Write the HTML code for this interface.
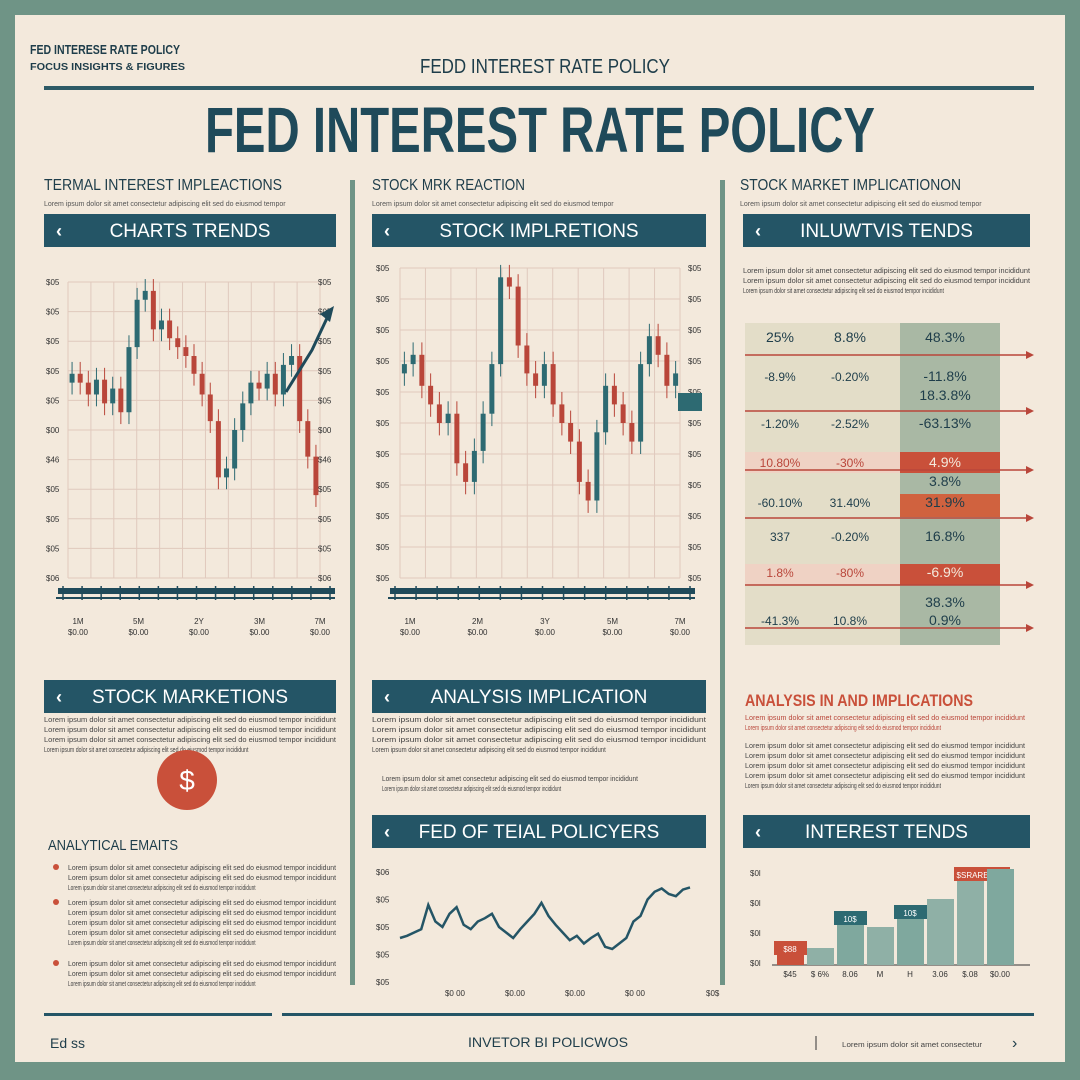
<!DOCTYPE html>
<html><head><meta charset="utf-8">
<style>
html,body{margin:0;padding:0;background:#6f9486;}
svg{display:block;font-family:"Liberation Sans",sans-serif;}
</style></head>
<body>
<svg id="pg" width="1080" height="1080" viewBox="0 0 1080 1080" xmlns="http://www.w3.org/2000/svg">
<rect x="0" y="0" width="1080" height="1080" fill="#6f9486"/>
<rect x="15" y="15" width="1050" height="1047" fill="#f3e9dc"/>
<text x="30" y="54" font-size="13" font-weight="bold" fill="#1e3d4a" textLength="150" lengthAdjust="spacingAndGlyphs">FED INTERESE RATE POLICY</text>
<text x="30" y="70" font-size="10" font-weight="bold" fill="#1e3d4a" textLength="155" lengthAdjust="spacingAndGlyphs">FOCUS INSIGHTS &amp; FIGURES</text>
<text x="545" y="73" font-size="20" fill="#1e3d4a" text-anchor="middle" textLength="250" lengthAdjust="spacingAndGlyphs">FEDD INTEREST RATE POLICY</text>
<rect x="44" y="86" width="990" height="4" fill="#2d5a66"/>
<text x="540" y="152" font-size="64" font-weight="bold" fill="#1f4a5a" text-anchor="middle" textLength="670" lengthAdjust="spacingAndGlyphs">FED INTEREST RATE POLICY</text>
<rect x="350" y="180" width="5" height="805" fill="#6f9486"/>
<rect x="720" y="180" width="5" height="805" fill="#6f9486"/>
<g id="dyn"></g>
</svg>
<script>
// ---- chart data ----
const chart1Values=[69,66,62,67,59,64,56,78,94,97,84,87,81,78,75,69,62,53,34,37,50,59,66,64,69,62,72,75,53,41,28];
const chart2Values=[69,72,62,56,50,53,37,31,41,53,69,97,94,75,66,62,69,56,50,44,31,25,47,62,56,50,44,69,78,72,62,66];
const chart1Ticks=["$05","$05","$05","$05","$05","$00","$46","$05","$05","$05","$06"];
const chart2Ticks=["$05","$05","$05","$05","$05","$05","$05","$05","$05","$05","$05"];
const xCats1=["1M","5M","2Y","3M","7M"];
const xCats2=["1M","2M","3Y","5M","7M"];
const lineValues=[40,42,45,48,70,55,50,62,68,52,48,55,58,62,50,45,40,48,55,62,72,60,52,45,38,42,35,40,44,32,30,35,40,55,60,75,82,85,80,78,84,86];
const lineTicks=["$06","$05","$05","$05","$05"];
const lineCats=["$0 00","$0.00","$0.00","$0 00"];
const barCats=["Q1","Q2","Q3","Q4","Q5","Q6","Q7","Q8"];
const barValues=[22,17,52,38,58,66,96,96];
const barLabels=["$88","","10$","","10$","","$SRARES 10$",""];
const barColors=["#c9503a","#8fb0a6","#7fa89e","#8fb0a6","#7fa89e","#8fb0a6","#8fb0a6","#7fa89e"];
const tableRows=[["25%","8.8%","48.3%"],["-8.9%","-0.20%","-11.8%"],["","","18.3.8%"],["-1.20%","-2.52%","-63.13%"],["10.80%","-30%","4.9%"],["","","3.8%"],["-60.10%","31.40%","31.9%"],["337","-0.20%","16.8%"],["1.8%","-80%","-6.9%"],["","","38.3%"],["-41.3%","10.8%","0.9%"]];
const tableY=[342,381,400,428,467,486,507,541,577,607,625];
const tableRed=[false,false,false,false,true,false,false,false,true,false,false];

const NS="http://www.w3.org/2000/svg";
const root=document.getElementById('dyn');
function mk(tag,attrs,parent,txt){const e=document.createElementNS(NS,tag);for(const k in attrs)e.setAttribute(k,attrs[k]);if(txt!==undefined)e.textContent=txt;(parent||root).appendChild(e);return e;}

function banner(x,y,w,label,name){
  const g=mk('g',{});
  
  
  mk('rect',{x:x,y:y,width:w,height:33,fill:'#245566'},g);
  mk('text',{x:x+12,y:y+23,'font-size':18,fill:'#fff','font-weight':'bold'},g,'‹');
  const t=mk('text',{x:x+w/2,y:y+23,'font-size':19,fill:'#fff','text-anchor':'middle'},g,label);
  
  
}
function heading(x,y,label,sub,name){
  const t=mk('text',{x:x,y:y,'font-size':16,fill:'#1e3d4a',textLength:label.length*8.5,lengthAdjust:'spacingAndGlyphs'},null,label);
  
  
  const s=mk('text',{x:x,y:y+16,'font-size':7,fill:'#555'},null,sub);
  
  
}
function para(x,y,w,lines,name,color){
  for(let i=0;i<lines;i++){
    const t=mk('text',{x:x,y:y+i*10,'font-size':7,fill:color||'#444',textLength:(i==lines-1?w*0.7:w),lengthAdjust:'spacingAndGlyphs'},null,'Lorem ipsum dolor sit amet consectetur adipiscing elit sed do eiusmod tempor incididunt');
    
    
  }
}
heading(44,190,'TERMAL INTEREST IMPLEACTIONS','Lorem ipsum dolor sit amet consectetur adipiscing elit sed do eiusmod tempor','col1-heading');
heading(372,190,'STOCK MRK REACTION','Lorem ipsum dolor sit amet consectetur adipiscing elit sed do eiusmod tempor','col2-heading');
heading(740,190,'STOCK MARKET IMPLICATIONON','Lorem ipsum dolor sit amet consectetur adipiscing elit sed do eiusmod tempor','col3-heading');
banner(44,214,292,'CHARTS TRENDS','charts-trends-banner');
banner(372,214,334,'STOCK IMPLRETIONS','stock-implretions-banner');
banner(743,214,287,'INLUWTVIS TENDS','inluwtvis-tends-banner');

function candleChart(values,ticks,cats,x0,x1,yTop,yBot,tickX,rightTicks,name){
  const g=mk('g',{});
  
  
  const yS=v=>yBot-(v/100)*(yBot-yTop);
  for(let i=0;i<=11;i++){const xx=x0+i*(x1-x0)/11;mk('line',{x1:xx,x2:xx,y1:yTop,y2:yBot,stroke:'#e0c9bd','stroke-width':1},g);}
  ticks.forEach((t,i)=>{const yy=yTop+i*(yBot-yTop)/(ticks.length-1);
    mk('line',{x1:x0,x2:x1,y1:yy,y2:yy,stroke:'#e0c9bd','stroke-width':1},g);
    const l=mk('text',{x:tickX,y:yy+3,'font-size':8,fill:'#333'},g,t);
    
    const r=mk('text',{x:rightTicks,y:yy+3,'font-size':8,fill:'#333'},g,t);
    
  });
  const n=values.length, step=(x1-x0)/n;
  values.forEach((v,i)=>{
    const o=i==0?v-3:values[i-1];
    const up=v>=o; const c=up?'#2d6a72':'#b9463a';
    const cx=x0+step*(i+0.5);
    mk('line',{x1:cx,x2:cx,y1:yS(Math.max(v,o)+4),y2:yS(Math.min(v,o)-4),stroke:c,'stroke-width':1},g);
    const b=mk('rect',{x:cx-2.5,y:yS(Math.max(v,o)),width:5,height:Math.max(2,Math.abs(yS(v)-yS(o))),fill:c},g);
    
  });
  mk('rect',{x:x0-10,y:yBot+10,width:x1-x0+25,height:6,fill:'#1f4a5a'},g);
  mk('line',{x1:x0-12,x2:x1+15,y1:yBot+20,y2:yBot+20,stroke:'#1f4a5a','stroke-width':2},g);
  for(let i=0;i<=14;i++){const xx=x0-5+i*(x1-x0+15)/14;mk('line',{x1:xx,x2:xx,y1:yBot+8,y2:yBot+22,stroke:'#1f4a5a','stroke-width':1.5},g);}
  cats.forEach((c,i)=>{const xx=x0+10+i*(x1-x0-10)/(cats.length-1);
    const a=mk('text',{x:xx,y:yBot+46,'font-size':8,fill:'#333','text-anchor':'middle'},g,c);
    
    mk('text',{x:xx,y:yBot+57,'font-size':8,fill:'#333','text-anchor':'middle'},g,'$0.00');
  });
}
candleChart(chart1Values,chart1Ticks,xCats1,68,320,282,578,46,318,'candlestick-chart-1');
candleChart(chart2Values,chart2Ticks,xCats2,400,680,268,578,376,688,'candlestick-chart-2');
const ar=mk('path',{d:'M286,392 L312,350 L328,316',fill:'none',stroke:'#1f4a5a','stroke-width':3});

mk('polygon',{points:'334,306 320,314 330,322',fill:'#1f4a5a'});
mk('rect',{x:678,y:393,width:24,height:18,fill:'#2d6a72'});

para(743,273,287,3,'col3-intro');
const tg=mk('g',{});


mk('rect',{x:745,y:323,width:155,height:322,fill:'#e3ddc8'},tg);
mk('rect',{x:900,y:323,width:100,height:322,fill:'#a9b8a4'},tg);
mk('rect',{x:745,y:452,width:255,height:21,fill:'#efd2c4'},tg);
mk('rect',{x:900,y:452,width:100,height:21,fill:'#c9503a'},tg);
mk('rect',{x:900,y:494,width:100,height:23,fill:'#d0623f'},tg);
mk('rect',{x:745,y:564,width:255,height:21,fill:'#efd2c4'},tg);
mk('rect',{x:900,y:564,width:100,height:21,fill:'#c9503a'},tg);
[355,411,470,518,585,628].forEach(y=>{
  mk('line',{x1:745,x2:1030,y1:y,y2:y,stroke:'#b9463a','stroke-width':1.5},tg);
  mk('polygon',{points:`1034,${y} 1026,${y-4} 1026,${y+4}`,fill:'#b9463a'},tg);
});
tableRows.forEach((r,i)=>{
  const y=tableY[i];
  const col=tableRed[i]?'#b9463a':'#1e3d4a';
  r.forEach((c,j)=>{
    const t=mk('text',{x:[780,850,945][j],y:y,'font-size':j==2||i==0?14:12,fill:(tableRed[i]&&j==2)?'#f3e9dc':col,'text-anchor':'middle'},tg,c);
    
  });
});

banner(44,680,292,'STOCK MARKETIONS','stock-marketions-banner');
banner(372,680,334,'ANALYSIS IMPLICATION','analysis-implication-banner');
para(44,722,292,4,'col1-paragraph');
para(372,722,334,4,'col2-paragraph');
para(382,781,256,2,'col2-paragraph-2');
const dc=mk('g',{});

mk('circle',{cx:187,cy:780,r:30,fill:'#c9503a'},dc);
mk('text',{x:187,y:790,'font-size':28,fill:'#fff','text-anchor':'middle'},dc,'$');
const ah=mk('text',{x:48,y:850,'font-size':15,fill:'#1e3d4a',textLength:130,lengthAdjust:'spacingAndGlyphs'},null,'ANALYTICAL EMAITS');

[870,905,966].forEach((y,k)=>{mk('circle',{cx:56,cy:y-3,r:3,fill:'#c9503a'});para(68,y,268,[3,5,3][k],'bullet-'+k);});

const rh=mk('text',{x:745,y:706,'font-size':17,'font-weight':'bold',fill:'#c9503a',textLength:228,lengthAdjust:'spacingAndGlyphs'},null,'ANALYSIS IN AND IMPLICATIONS');

para(745,720,280,2,'col3-red-lines','#b9463a');
para(745,748,280,5,'col3-paragraph');
banner(372,815,334,'FED OF TEIAL POLICYERS','fed-policy-banner');
banner(743,815,287,'INTEREST TENDS','interest-tends-banner');

const lg=mk('g',{});

const lx0=400,lx1=690,lyT=872,lyB=982;
lineTicks.forEach((t,i)=>{const y=lyT+i*(lyB-lyT)/(lineTicks.length-1);
  const l=mk('text',{x:376,y:y+3,'font-size':8,fill:'#333'},lg,t);});
lineCats.forEach((c,i)=>{const l=mk('text',{x:455+i*60,y:996,'font-size':8,fill:'#333','text-anchor':'middle'},lg,c);});
mk('text',{x:706,y:996,'font-size':8,fill:'#333'},lg,'$0$');
const lyS=v=>lyB-(v/100)*(lyB-lyT);
const pts=lineValues.map((v,i)=>`${lx0+i*(lx1-lx0)/(lineValues.length-1)},${lyS(v)}`).join(' ');
const pl=mk('polyline',{points:pts,fill:'none',stroke:'#245566','stroke-width':2.5},lg);


const bg=mk('g',{});

const bx0=777,bw=30,byB=965,byT=865;
["$0l","$0l","$0l","$0l"].forEach((t,i)=>mk('text',{x:750,y:876+i*30,'font-size':8,fill:'#333'},bg,t));
mk('line',{x1:772,x2:1030,y1:byB,y2:byB,stroke:'#333','stroke-width':1},bg);
barValues.forEach((v,i)=>{
  const h=(v/100)*(byB-byT);
  const r=mk('rect',{x:bx0+i*bw,y:byB-h,width:bw-3,height:h,fill:barColors[i]},bg);
  
  if(barLabels[i]){mk('rect',{x:bx0+i*bw-3,y:byB-h-2,width:bw+(i==6?26:3),height:14,fill:i==0||i==6?'#c9503a':'#2d6a72'},bg);
    mk('text',{x:bx0+i*bw+(i==6?26:13),y:byB-h+9,'font-size':8,fill:'#fff','text-anchor':'middle'},bg,barLabels[i]);}
  const xl=mk('text',{x:bx0+i*bw+13,y:977,'font-size':8,fill:'#333','text-anchor':'middle'},bg,['$45','$ 6%','8.06','M','H','3.06','$.08','$0.00'][i]);
  
});

mk('rect',{x:44,y:1013,width:228,height:3,fill:'#245566'});
mk('rect',{x:282,y:1013,width:752,height:3,fill:'#245566'});
const f1=mk('text',{x:50,y:1048,'font-size':14,fill:'#1e3d4a'},null,'Ed ss');
const f2=mk('text',{x:548,y:1047,'font-size':14,fill:'#1e3d4a','text-anchor':'middle',textLength:160,lengthAdjust:'spacingAndGlyphs'},null,'INVETOR BI POLICWOS');
mk('line',{x1:816,x2:816,y1:1036,y2:1050,stroke:'#333'});
const f3=mk('text',{x:842,y:1047,'font-size':7,fill:'#444',textLength:140,lengthAdjust:'spacingAndGlyphs'},null,'Lorem ipsum dolor sit amet consectetur');
const f4=mk('text',{x:1012,y:1048,'font-size':16,fill:'#1e3d4a'},null,'›');
</script>
</body></html>
